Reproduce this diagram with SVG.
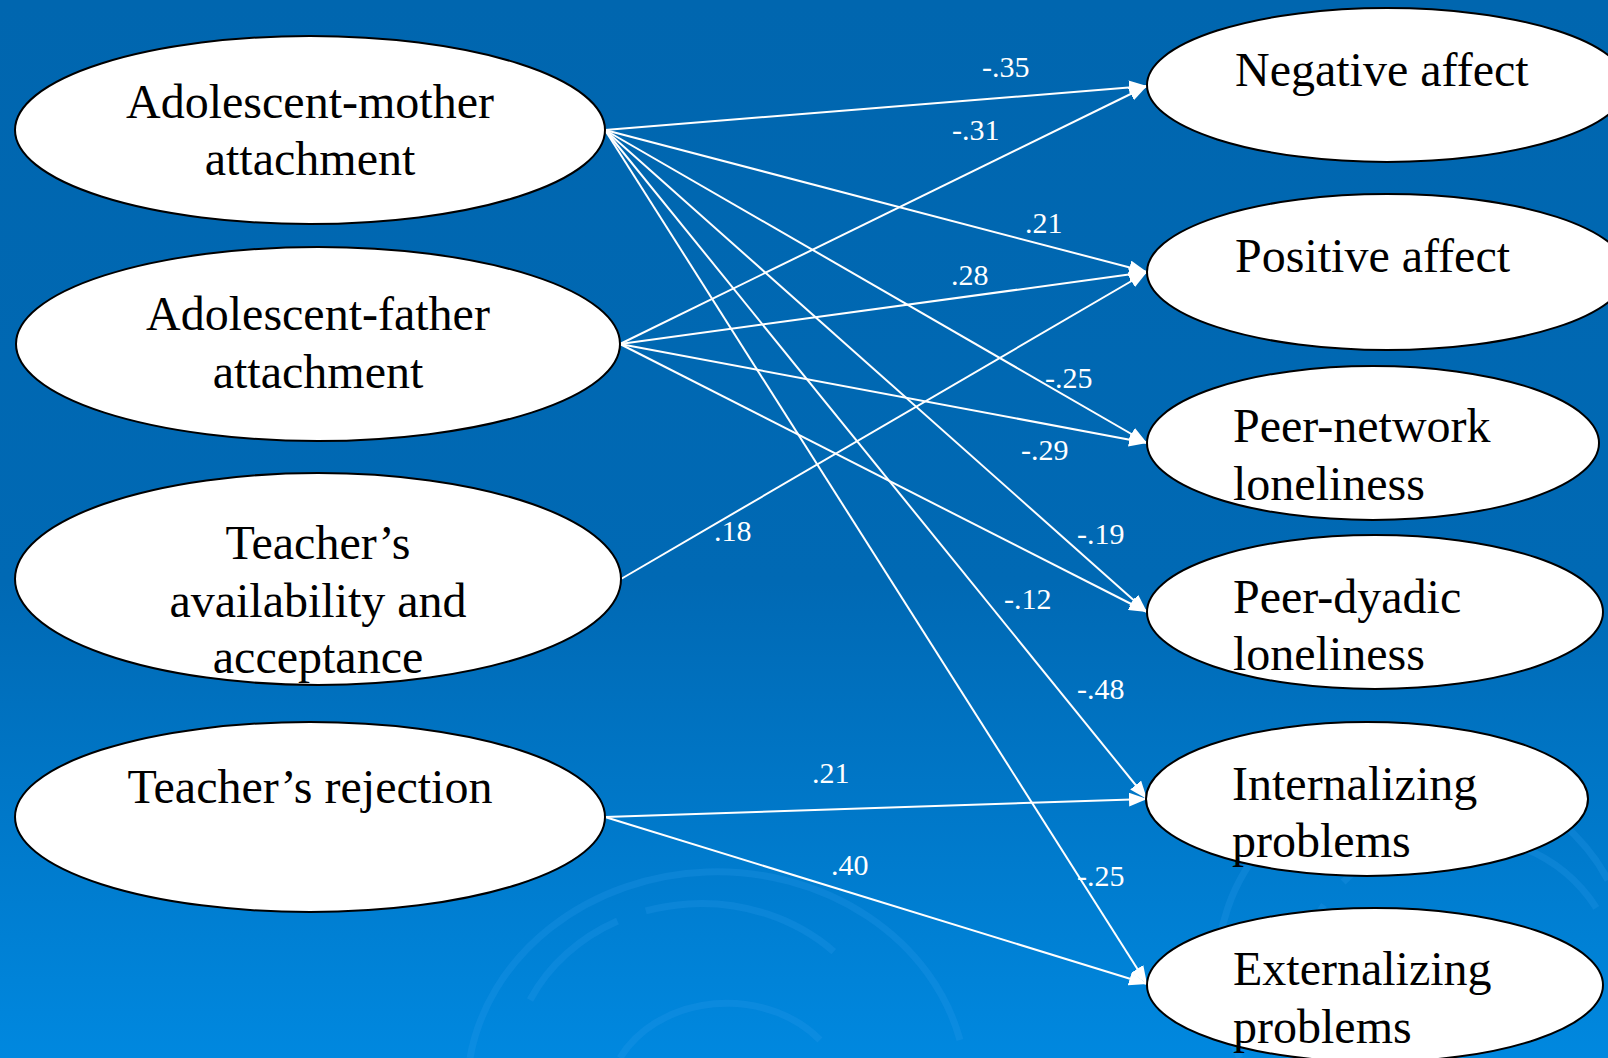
<svg xmlns="http://www.w3.org/2000/svg" width="1608" height="1058" viewBox="0 0 1608 1058">
<defs>
<linearGradient id="bg" x1="0" y1="0" x2="0" y2="1">
<stop offset="0" stop-color="#0066AF"/>
<stop offset="0.55" stop-color="#0069B4"/>
<stop offset="1" stop-color="#0088DF"/>
</linearGradient>
<marker id="arr" markerUnits="userSpaceOnUse" markerWidth="18" markerHeight="14" refX="18" refY="7" orient="auto">
<path d="M0,0 L18,7 L0,14 z" fill="#FFFFFF"/>
</marker>
<style>
.node ellipse{fill:#FFFFFF;stroke:#000000;stroke-width:2}
.node text{font-family:"Liberation Serif","Times New Roman",serif;font-size:48px;fill:#000000}
.c{text-anchor:middle}
.conn line{stroke:#FFFFFF;stroke-width:2;marker-end:url(#arr)}
.lbl{font-family:"Liberation Serif","Times New Roman",serif;font-size:30px;fill:#FFFFFF}
.sw{fill:none;stroke:#2A9BEA;stroke-opacity:0.25;stroke-width:7}
</style>
</defs>
<rect x="0" y="0" width="1608" height="1058" fill="url(#bg)"/>
<g id="swirls">
<path class="sw" d="M470,1058 A250,220 0 0 1 960,1040"/>
<path class="sw" d="M530,1000 A190,170 0 0 1 860,980" stroke-dasharray="120,30,200,40"/>
<path class="sw" d="M620,1058 A120,100 0 0 1 820,1040"/>
<path class="sw" d="M1240,1058 A200,190 0 0 1 1608,880"/>
<path class="sw" d="M1300,1000 A160,150 0 0 1 1608,930" stroke-dasharray="100,30,160,30"/>
</g>
<g id="connectors" class="conn">
<line x1="605" y1="130" x2="1147" y2="86"/>
<line x1="620" y1="344" x2="1147" y2="86"/>
<line x1="605" y1="130" x2="1147" y2="272"/>
<line x1="620" y1="344" x2="1147" y2="272"/>
<line x1="621" y1="579" x2="1147" y2="272"/>
<line x1="605" y1="130" x2="1147" y2="443"/>
<line x1="620" y1="344" x2="1147" y2="443"/>
<line x1="605" y1="130" x2="1147" y2="612"/>
<line x1="620" y1="344" x2="1147" y2="612"/>
<line x1="605" y1="130" x2="1147" y2="799"/>
<line x1="605" y1="130" x2="1147" y2="984"/>
<line x1="605" y1="817" x2="1147" y2="799"/>
<line x1="605" y1="817" x2="1147" y2="984"/>
<text class="lbl" x="982" y="77">-.35</text>
<text class="lbl" x="952" y="140">-.31</text>
<text class="lbl" x="1025" y="233">.21</text>
<text class="lbl" x="951" y="285">.28</text>
<text class="lbl" x="714" y="541">.18</text>
<text class="lbl" x="1045" y="388">-.25</text>
<text class="lbl" x="1021" y="460">-.29</text>
<text class="lbl" x="1077" y="544">-.19</text>
<text class="lbl" x="1004" y="609">-.12</text>
<text class="lbl" x="1077" y="699">-.48</text>
<text class="lbl" x="812" y="783">.21</text>
<text class="lbl" x="831" y="875">.40</text>
<text class="lbl" x="1077" y="886">-.25</text>
</g>
<g id="n-mother" class="node">
<ellipse cx="310" cy="130" rx="295" ry="94"/>
<text class="c" x="310" y="118">Adolescent-mother</text>
<text class="c" x="310" y="175">attachment</text>
</g>
<g id="n-father" class="node">
<ellipse cx="318" cy="344" rx="302" ry="97"/>
<text class="c" x="318" y="330">Adolescent-father</text>
<text class="c" x="318" y="388">attachment</text>
</g>
<g id="n-teacher-avail" class="node">
<ellipse cx="318" cy="579" rx="303" ry="106"/>
<text class="c" x="318" y="559">Teacher’s</text>
<text class="c" x="318" y="617">availability and</text>
<text class="c" x="318" y="673">acceptance</text>
</g>
<g id="n-teacher-reject" class="node">
<ellipse cx="310" cy="817" rx="295" ry="95"/>
<text class="c" x="310" y="803">Teacher’s rejection</text>
</g>
<g id="n-negative" class="node">
<ellipse cx="1387" cy="85" rx="240" ry="77"/>
<text x="1235" y="86">Negative affect</text>
</g>
<g id="n-positive" class="node">
<ellipse cx="1387" cy="272" rx="240" ry="78"/>
<text x="1235" y="272">Positive affect</text>
</g>
<g id="n-peer-network" class="node">
<ellipse cx="1373" cy="443" rx="226" ry="77"/>
<text x="1233" y="442">Peer-network</text>
<text x="1233" y="500">loneliness</text>
</g>
<g id="n-peer-dyadic" class="node">
<ellipse cx="1375" cy="612" rx="228" ry="77"/>
<text x="1233" y="613">Peer-dyadic</text>
<text x="1233" y="670">loneliness</text>
</g>
<g id="n-internalizing" class="node">
<ellipse cx="1367" cy="799" rx="221" ry="77"/>
<text x="1232" y="800">Internalizing</text>
<text x="1232" y="857">problems</text>
</g>
<g id="n-externalizing" class="node">
<ellipse cx="1375" cy="985" rx="228" ry="77"/>
<text x="1233" y="985">Externalizing</text>
<text x="1233" y="1043">problems</text>
</g>
</svg>
